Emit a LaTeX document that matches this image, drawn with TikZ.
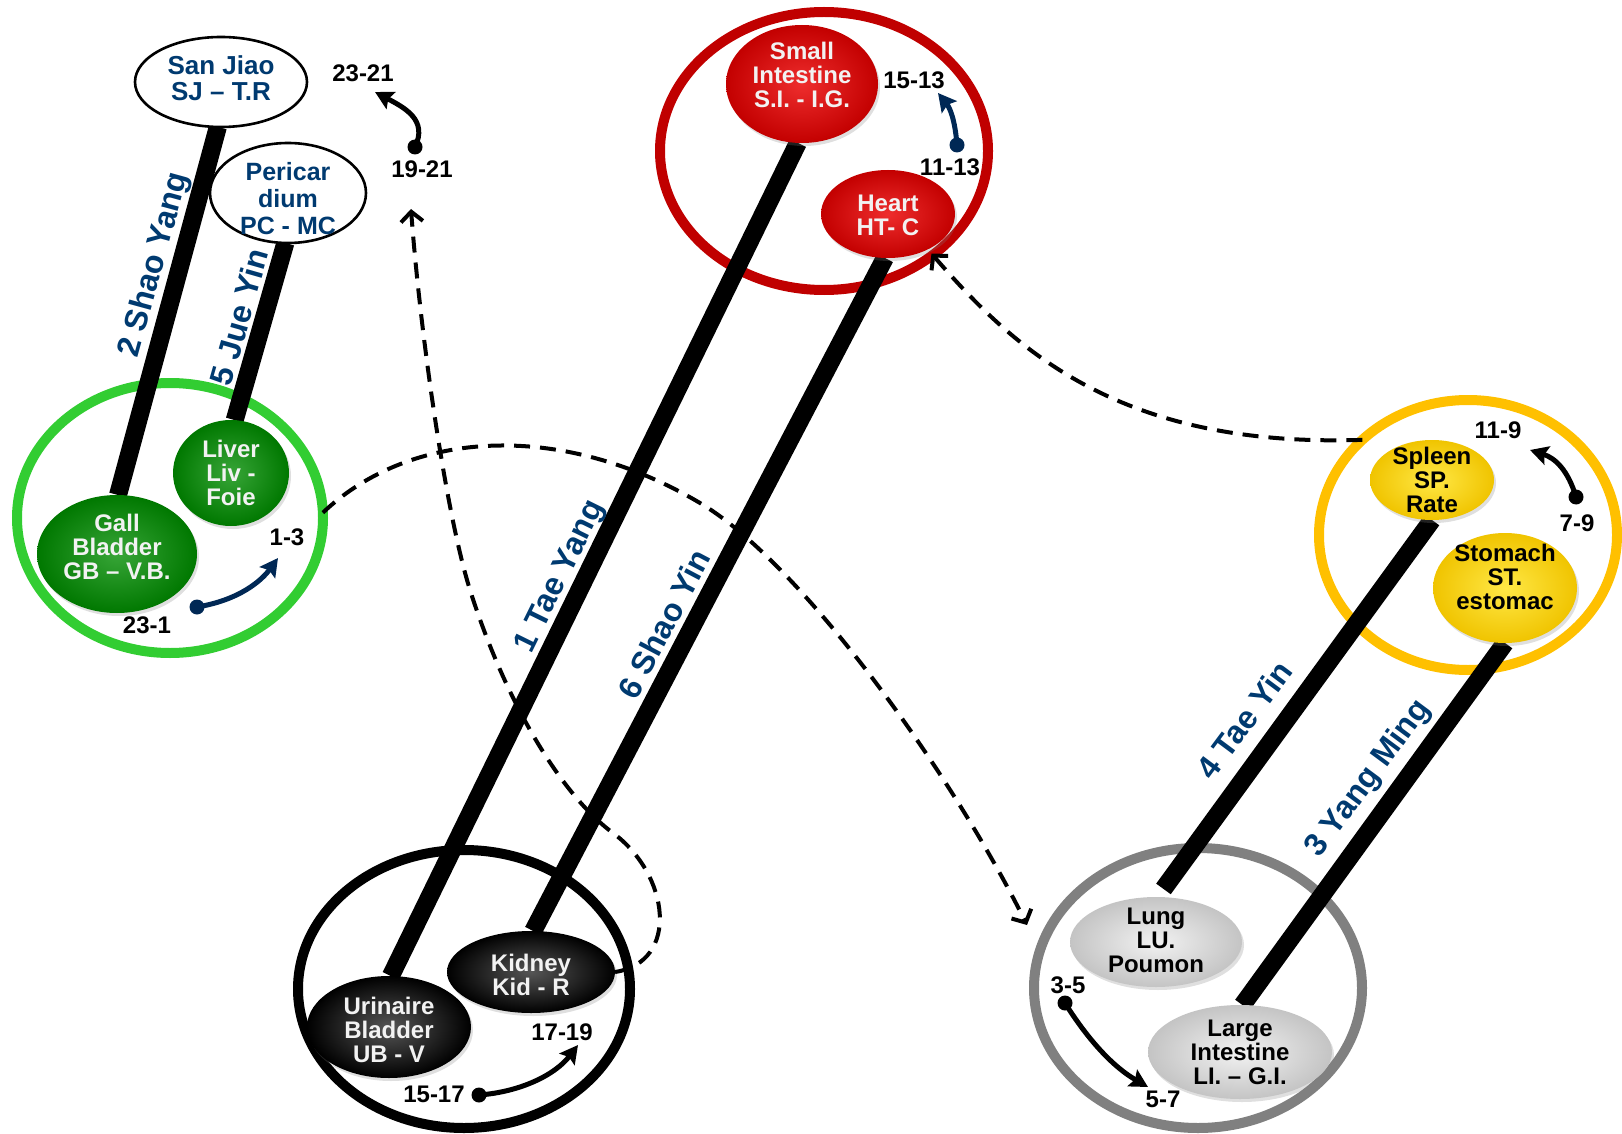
\documentclass[tikz,border=0pt]{standalone}
\usepackage{fontspec}
\setmainfont{Liberation Sans}
\usetikzlibrary{shapes.geometric,arrows.meta,shadows}
\pgfdeclarelayer{ringlayer}
\pgfdeclarelayer{barlayer}
\pgfsetlayers{ringlayer,barlayer,main}
\definecolor{mblue}{RGB}{0,58,112}
\definecolor{navy}{RGB}{0,40,85}
\definecolor{ringG}{RGB}{50,205,50}
\definecolor{ringR}{RGB}{192,0,0}
\definecolor{ringY}{RGB}{255,192,0}
\definecolor{ringA}{RGB}{128,128,128}
\definecolor{orgGin}{RGB}{55,165,55}
\definecolor{orgGout}{RGB}{0,120,0}
\definecolor{orgRin}{RGB}{238,45,45}
\definecolor{orgRout}{RGB}{195,0,0}
\definecolor{orgYin}{RGB}{255,232,70}
\definecolor{orgYout}{RGB}{240,196,0}
\definecolor{orgAin}{RGB}{242,242,242}
\definecolor{orgAout}{RGB}{196,196,196}
\definecolor{orgKin}{RGB}{85,85,85}
\definecolor{orgKout}{RGB}{0,0,0}
\definecolor{paletxt}{RGB}{242,242,242}
\begin{document}
\begin{tikzpicture}[x=0.5pt,y=-0.5pt,
  ring/.style={ellipse, draw, line width=5pt, inner sep=0pt, outer sep=0pt},
  organ/.style={ellipse, inner sep=0pt, outer sep=0pt,
    drop shadow={opacity=0.25, shadow xshift=1pt, shadow yshift=-1.5pt}},
  gorg/.style={organ, inner color=orgGin, outer color=orgGout},
  rorg/.style={organ, inner color=orgRin, outer color=orgRout},
  yorg/.style={organ, inner color=orgYin, outer color=orgYout},
  aorg/.style={organ, inner color=orgAin, outer color=orgAout},
  korg/.style={organ, inner color=orgKin, outer color=orgKout},
  wbub/.style={ellipse, draw, line width=1.3pt, fill=white, inner sep=0pt, outer sep=0pt},
  otext/.style={align=center, inner sep=0pt, font=\fontsize{12}{12}\selectfont\bfseries},
  ptext/.style={otext, text=paletxt},
  btext/.style={otext, text=black},
  bluetext/.style={align=center, inner sep=0pt, text=mblue},
  bar/.style={line width=9pt},
  mlabel/.style={inner sep=0pt, text=mblue, font=\fontsize{16}{16}\selectfont\bfseries},
  num/.style={inner sep=0pt, font=\fontsize{12}{12}\selectfont\bfseries},
  flow/.style={line width=2.5pt, -{Stealth[length=9pt,width=9.5pt,inset=1.5pt]}},
  dashflow/.style={line width=2pt, dash pattern=on 8pt off 5pt,
    -{Straight Barb[length=5pt,width=11pt]}}
]
\useasboundingbox (0,0) rectangle (1622,1134);

% rings
\begin{pgfonlayer}{ringlayer}
\node[ring, draw=ringG, minimum width=153pt, minimum height=135pt] (ringg) at (170,518) {};
\node[ring, draw=ringR, minimum width=164pt, minimum height=139pt] (ringr) at (824,151) {};
\node[ring, draw=ringY, minimum width=149pt, minimum height=135pt] (ringy) at (1468,535) {};
\node[ring, draw=ringA, minimum width=164pt, minimum height=140pt] (ringa) at (1198,988) {};
\node[ring, draw=black, minimum width=166pt, minimum height=139pt] (ringk) at (464,989) {};
\end{pgfonlayer}

% organs
\node[wbub, minimum width=86pt, minimum height=45pt] (sj) at (221,82) {};
\node[wbub, minimum width=78pt, minimum height=50pt] (pc) at (288,193) {};
\node[gorg, minimum width=80pt, minimum height=59pt] (gb) at (117,554) {};
\node[gorg, minimum width=58pt, minimum height=53pt] (liv) at (231,473) {};
\node[rorg, minimum width=76pt, minimum height=59pt] (si) at (802,84) {};
\node[rorg, minimum width=67pt, minimum height=44pt] (ht) at (888,214) {};
\node[yorg, minimum width=62pt, minimum height=40pt] (sp) at (1432,480) {};
\node[yorg, minimum width=72pt, minimum height=55pt] (st) at (1505,588) {};
\node[aorg, minimum width=86pt, minimum height=45pt] (lu) at (1156,942) {};
\node[aorg, minimum width=92pt, minimum height=47pt] (li) at (1240,1052) {};
\node[korg, minimum width=82pt, minimum height=51pt] (ub) at (389,1027) {};
\node[korg, minimum width=84pt, minimum height=41pt] (kid) at (531,972) {};

% organ texts
\node[bluetext, font=\fontsize{13}{13}\selectfont\bfseries] (sj-t) at (221,78) {San Jiao\\SJ – T.R};
\node[bluetext, font=\fontsize{12.5}{13.5}\selectfont\bfseries] (pc-t) at (288,199) {Pericar\\dium\\PC - MC};
\node[ptext] (gb-t) at (117,547) {Gall\\Bladder\\GB – V.B.};
\node[ptext] (liv-t) at (231,473) {Liver\\Liv -\\Foie};
\node[ptext] (si-t) at (802,75) {Small\\Intestine\\S.I. - I.G.};
\node[ptext] (ht-t) at (888,215) {Heart\\HT- C};
\node[btext] (sp-t) at (1432,480) {Spleen\\SP.\\Rate};
\node[btext] (st-t) at (1505,577) {Stomach\\ST.\\estomac};
\node[btext] (lu-t) at (1156,940) {Lung\\LU.\\Poumon};
\node[btext] (li-t) at (1240,1052) {Large\\Intestine\\LI. – G.I.};
\node[ptext] (ub-t) at (389,1030) {Urinaire\\Bladder\\UB - V};
\node[ptext] (kid-t) at (531,975) {Kidney\\Kid - R};

% meridian bars
\begin{pgfonlayer}{barlayer}
\draw[bar] (sj.-94) -- (gb.89);
\draw[bar] (pc.-93) -- (liv.86);
\draw[bar] (si.-94) -- (ub.88);
\draw[bar] (ht.-94) -- (kid.87);
\draw[bar, shorten >=5pt] (sp.-90) -- (lu.88);
\draw[bar] (st.-90) -- (li.87);
\end{pgfonlayer}

% meridian labels
\node[mlabel, rotate=74.7] (m2) at (155,265) {2 Shao Yang};
\node[mlabel, rotate=74] (m5) at (239,317) {5 Jue Yin};
\node[mlabel, rotate=63.8] (m1) at (561,577) {1 Tae Yang};
\node[mlabel, rotate=62.2] (m6) at (664,624) {6 Shao Yin};
\node[mlabel, rotate=53.3] (m4) at (1244,720) {4 Tae Yin};
\node[mlabel, rotate=53.4] (m3) at (1369,779) {3 Yang Ming};

% hour labels
\node[num] (n2321) at (363,73) {23-21};
\node[num] (n1921) at (422,169) {19-21};
\node[num] (n13) at (287,537) {1-3};
\node[num] (n231) at (147,625) {23-1};
\node[num] (n1513) at (914,80) {15-13};
\node[num] (n1113) at (950,167) {11-13};
\node[num] (n119) at (1498,430) {11-9};
\node[num] (n79) at (1577,523) {7-9};
\node[num] (n35) at (1068,985) {3-5};
\node[num] (n57) at (1163,1099) {5-7};
\node[num] (n1719) at (562,1032) {17-19};
\node[num] (n1517) at (434,1094) {15-17};

% small curved arrows
\coordinate (a1s) at (415,147); \coordinate (a1e) at (375,92);
\fill (a1s) circle[radius=3.75pt];
\draw[flow] (a1s) .. controls (428,120) and (405,108) .. (a1e);

\coordinate (a2s) at (197,607); \coordinate (a2e) at (278,558);
\fill[navy] (a2s) circle[radius=3.75pt];
\draw[flow, navy] (a2s) .. controls (240,600) and (262,580) .. (a2e);

\coordinate (a3s) at (957,145); \coordinate (a3e) at (938,93);
\fill[navy] (a3s) circle[radius=3.75pt];
\draw[flow, navy] (a3s) .. controls (955,120) and (950,108) .. (a3e);

\coordinate (a4s) at (1576,497); \coordinate (a4e) at (1530,450);
\fill (a4s) circle[radius=3.75pt];
\draw[flow] (a4s) .. controls (1568,470) and (1555,458) .. (a4e);

\coordinate (a5s) at (1065,1003); \coordinate (a5e) at (1148,1087);
\fill (a5s) circle[radius=3.75pt];
\draw[flow] (a5s) .. controls (1085,1035) and (1110,1065) .. (a5e);

\coordinate (a6s) at (479,1095); \coordinate (a6e) at (578,1045);
\fill (a6s) circle[radius=3.75pt];
\draw[flow] (a6s) .. controls (520,1092) and (555,1075) .. (a6e);

% dashed connectors
\coordinate (grayin) at (1027,925);
\coordinate (kidend) at (411,209);
\draw[dashflow] (ringg.2) .. controls (410,430) and (560,420) .. (700,503)
  .. controls (800,562) and (950,770) .. (grayin);
\draw[dashflow] (ringy.138) .. controls (1120,448) and (1015,350) .. ([shift={(2pt,-2pt)}]ht.-42);
\draw[dashflow] (kid.east) .. controls (680,962) and (670,875) .. (613,833)
  .. controls (560,794) and (505,700) .. (470,590)
  .. controls (445,510) and (420,330) .. (kidend);
\end{tikzpicture}
\end{document}
